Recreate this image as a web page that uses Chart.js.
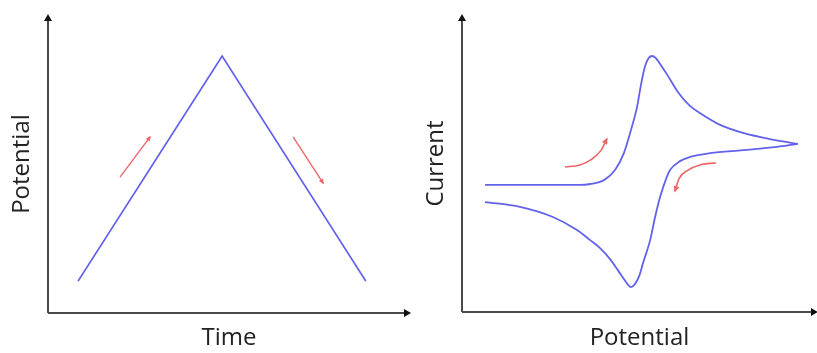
<!DOCTYPE html>
<html><head><meta charset="utf-8">
<script src="https://cdn.jsdelivr.net/npm/chart.js@4.4.1/dist/chart.umd.min.js"></script>
<style>
html,body{margin:0;padding:0;background:#fff;overflow:hidden;}
#wrap{position:relative;width:817px;height:353px;}
canvas{position:absolute;top:0;}
</style></head><body>
<div id="wrap">
<canvas id="left" width="420" height="353" style="left:0"></canvas>
<canvas id="right" width="397" height="353" style="left:420px"></canvas>
</div>
<script>
// ---- Left panel: triangular potential sweep (arbitrary units 0..10) ----
const sweepTime = [0.83, 4.81, 8.78];
const sweepPotential = [1.07, 8.62, 1.07];
const upArrowTime = [1.99, 2.82];
const upArrowPotential = [4.56, 5.91];
const downArrowTime = [6.77, 7.60];
const downArrowPotential = [5.91, 4.36];
const leftTitles = ['Time', 'Potential'];

// ---- Right panel: cyclic voltammogram (arbitrary units 0..10) ----
const forwardPotential = [0.65, 2.20, 3.04, 3.32, 3.61, 4.00, 4.31, 4.56, 4.76, 4.93, 5.04, 5.15, 5.24, 5.35, 5.46, 5.58, 5.80, 6.08, 6.42, 6.70, 7.27, 7.92, 8.68, 9.46];
const forwardCurrent   = [4.28, 4.28, 4.28, 4.28, 4.31, 4.44, 4.78, 5.35, 6.13, 6.90, 7.64, 8.25, 8.52, 8.62, 8.55, 8.35, 7.95, 7.41, 6.94, 6.70, 6.30, 6.03, 5.82, 5.66];
const reversePotential = [9.46, 8.87, 7.92, 6.99, 6.42, 6.14, 5.86, 5.77, 5.58, 5.44, 5.30, 5.10, 4.99, 4.87, 4.76, 4.68, 4.56, 4.39, 4.17, 3.89, 3.61, 3.24, 2.56, 1.63, 0.65];
const reverseCurrent   = [5.66, 5.56, 5.45, 5.35, 5.22, 5.08, 4.78, 4.55, 3.87, 3.20, 2.42, 1.65, 1.21, 0.94, 0.84, 0.91, 1.11, 1.41, 1.78, 2.15, 2.42, 2.76, 3.20, 3.54, 3.70];
const oxArrowPotential = [2.90, 3.32, 3.66, 3.92, 4.08];
const oxArrowCurrent   = [4.88, 4.95, 5.15, 5.45, 5.83];
const redArrowPotential = [7.15, 6.70, 6.37, 6.11, 6.00];
const redArrowCurrent   = [5.02, 4.95, 4.78, 4.48, 4.07];
const rightTitles = ['Potential', 'Current'];

const BLUE = 'rgb(98,98,236)';
const RED = 'rgb(236,104,104)';
const AXIS = '#4a4a4a';
const TEXT = '#222';
const FONT = {family: '"Open Sans", "DejaVu Sans", sans-serif', size: 24};

function pts(xs, ys) { return xs.map((x, i) => ({x: x, y: ys[i]})); }

const arrowPlugin = {
  id: 'arrows',
  afterDatasetsDraw(chart) {
    const ctx = chart.ctx;
    chart.data.datasets.forEach((ds, i) => {
      if (!ds.arrowHead) return;
      const d = chart.getDatasetMeta(i).data;
      const a = d[d.length - 2], b = d[d.length - 1];
      const ang = Math.atan2(b.y - a.y, b.x - a.x);
      const L = ds.arrowHead;
      ctx.save();
      ctx.fillStyle = ds.borderColor;
      ctx.translate(b.x, b.y);
      ctx.rotate(ang);
      ctx.beginPath();
      ctx.moveTo(1.5, 0);
      ctx.lineTo(-L, -L * 0.6);
      ctx.lineTo(-L, L * 0.6);
      ctx.closePath();
      ctx.fill();
      ctx.restore();
    });
  },
  beforeDatasetsDraw(chart) {
    const ctx = chart.ctx;
    const {left, right, top, bottom} = chart.chartArea;
    ctx.save();
    ctx.strokeStyle = AXIS;
    ctx.lineWidth = 2;
    ctx.beginPath();
    ctx.moveTo(left, bottom);
    ctx.lineTo(left, top + 4);
    ctx.moveTo(left, bottom);
    ctx.lineTo(right - 4, bottom);
    ctx.stroke();
    ctx.fillStyle = '#111';
    ctx.beginPath();
    ctx.moveTo(left, top - 1);
    ctx.lineTo(left - 4, top + 6);
    ctx.lineTo(left + 4, top + 6);
    ctx.closePath();
    ctx.fill();
    ctx.beginPath();
    ctx.moveTo(right + 1, bottom);
    ctx.lineTo(right - 6, bottom - 4);
    ctx.lineTo(right - 6, bottom + 4);
    ctx.closePath();
    ctx.fill();
    ctx.restore();
  }
};

function makeChart(id, datasets, titles, yWidth, xHeight, pad, yTitlePad) {
  return new Chart(document.getElementById(id), {
    type: 'scatter',
    data: {datasets: datasets},
    options: {
      responsive: false,
      animation: false,
      devicePixelRatio: 1,
      layout: {padding: pad},
      plugins: {legend: {display: false}, tooltip: {enabled: false}},
      elements: {point: {radius: 0, hoverRadius: 0}},
      scales: {
        x: {
          type: 'linear', min: 0, max: 10,
          grid: {display: false}, border: {display: false},
          ticks: {display: false},
          title: {display: true, text: titles[0], color: TEXT, font: FONT, padding: {top: 0, bottom: 0}},
          afterFit: s => { s.height = xHeight; }
        },
        y: {
          type: 'linear', min: 0, max: 10,
          grid: {display: false}, border: {display: false},
          ticks: {display: false},
          title: {display: true, text: titles[1], color: TEXT, font: FONT, padding: {top: yTitlePad, bottom: 0}},
          afterFit: s => { s.width = yWidth; }
        }
      }
    },
    plugins: [arrowPlugin]
  });
}

function line(data, color, width, smooth, head) {
  const ds = {data: data, showLine: true, borderColor: color, backgroundColor: color,
          borderWidth: width, tension: 0, pointRadius: 0, fill: false, arrowHead: head || 0};
  if (smooth) { ds.cubicInterpolationMode = 'monotone'; ds.tension = 0.4; }
  return ds;
}

makeChart('left', [
  line(pts(sweepTime, sweepPotential), BLUE, 1.8, false),
  line(pts(upArrowTime, upArrowPotential), RED, 1.4, false, 4),
  line(pts(downArrowTime, downArrowPotential), RED, 1.4, false, 4)
], leftTitles, 48, 40, {left: 0, right: 10, top: 15, bottom: 0}, 8);

makeChart('right', [
  line(pts(forwardPotential, forwardCurrent), BLUE, 1.8, true),
  line(pts(reversePotential, reverseCurrent), BLUE, 1.8, true),
  line(pts(oxArrowPotential, oxArrowCurrent), RED, 1.6, true, 5),
  line(pts(redArrowPotential, redArrowCurrent), RED, 1.6, true, 5)
], rightTitles, 42, 41, {left: 0, right: 0, top: 15, bottom: 0}, 2);
</script>
</body></html>
